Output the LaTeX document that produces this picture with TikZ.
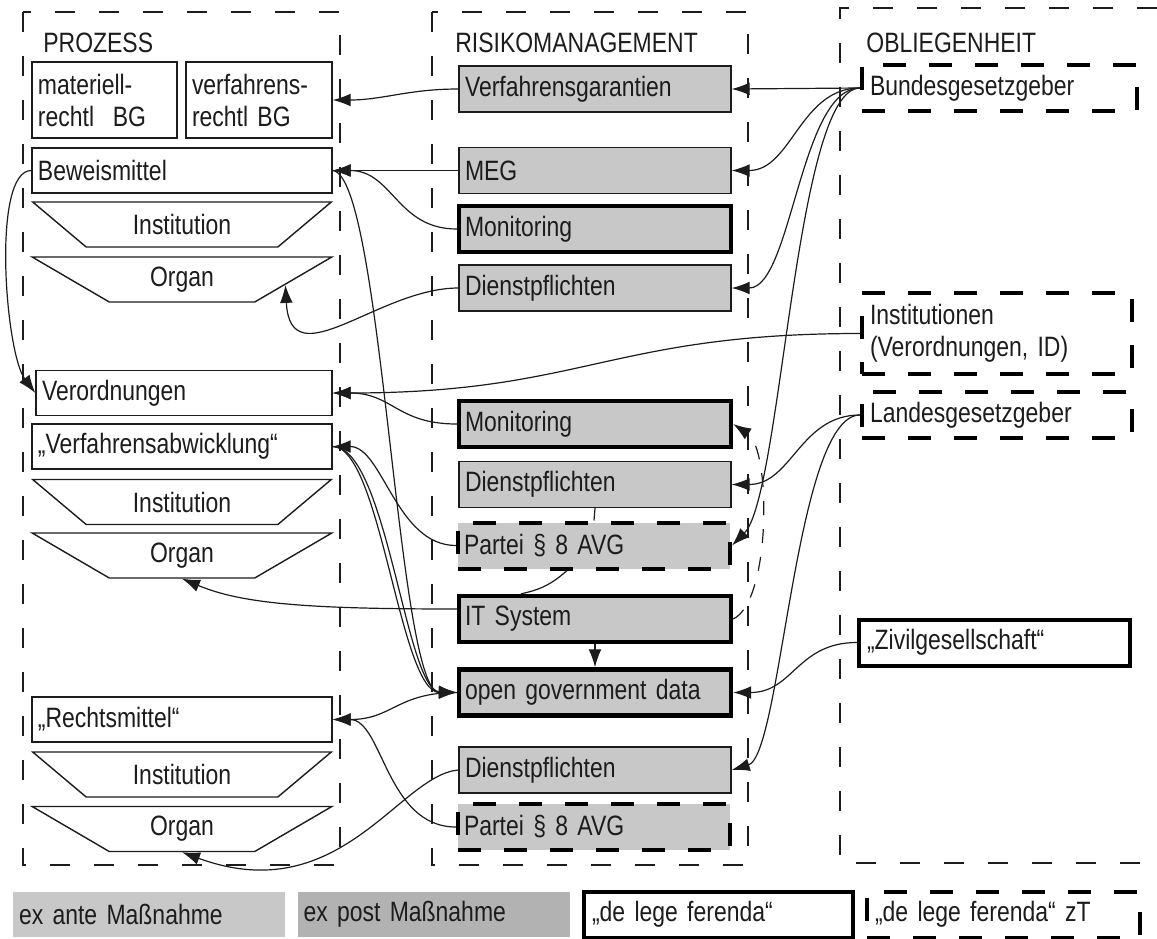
\documentclass[tikz,border=0pt]{standalone}
\usepackage{fontspec}
\setmainfont[FakeStretch=0.82]{Liberation Sans}
\usetikzlibrary{arrows.meta,shapes.geometric}
\definecolor{boxgray}{RGB}{200,200,200}
\definecolor{antegray}{RGB}{200,200,200}
\definecolor{postgray}{RGB}{178,178,178}
\definecolor{ink}{RGB}{28,28,28}
\begin{document}
\begin{tikzpicture}[
		x=0.5pt, y=-0.5pt,
		every node/.style={font=\fontsize{14}{16}\selectfont, text=ink},
		col/.style={draw=ink, line width=0.6pt, dash pattern=on 10pt off 12pt},
		title/.style={anchor=base west, inner sep=0pt},
		proc/.style={draw=ink, line width=0.7pt, fill=white, text width=#1, inner xsep=3pt, inner ysep=2pt, minimum height=22.5pt, align=left},
		proc/.default=144pt,
		trap/.style={trapezium, shape border rotate=180, trapezium angle=36.87, trapezium stretches=true, draw=ink, line width=0.7pt, fill=white, minimum width=150pt, minimum height=22.5pt, inner sep=0pt},
		risk/.style={draw=ink, line width=0.7pt, fill=boxgray, text width=130pt, inner xsep=3pt, minimum height=23pt, align=left},
		riskthick/.style={risk, draw=black, line width=2.2pt},
		riskdash/.style={risk, draw=black, line width=2pt, dash pattern=on 11.5pt off 11.5pt},
		duty/.style={draw=black, line width=2pt, fill=white, dash pattern=on 11.5pt off 11.5pt, text width=#1, inner xsep=4pt, minimum height=23pt, align=left},
		dutythick/.style={duty=#1, solid},
		legend/.style={text width=130pt, inner xsep=3pt, minimum height=22.5pt, align=left},
		flow/.style={draw=ink, line width=0.6pt, -{Latex[length=9pt,width=6.4pt]}},
		link/.style={draw=ink, line width=0.6pt}
	]
		\useasboundingbox (0,0) rectangle (1157,938);
		
		% Spalten
		\draw[col] (23,12) rectangle (340,865);
		\draw[col] (432,12) rectangle (748,865);
		\draw[col] (1157,8) -- (840,8) -- (840,863) -- (1157,863);
		\node[title] (tproz) at (43,52) {PROZESS};
		\node[title] (trisk) at (455,52) {RISIKOMANAGEMENT};
		\node[title] (tobl) at (866,52) {OBLIEGENHEIT};
		
		% Prozess
		\node[proc=66.5pt, minimum height=38pt] (matbg) at (104.5,100) {materiell-\\rechtl\ \ BG};
		\node[proc=67pt, minimum height=38pt] (vrbg) at (259,100) {verfahrens-\\rechtl BG};
		\node[proc] (bew) at (182,170.5) {Beweismittel};
		\node[trap] (inst1) at (182,224.5) {Institution};
		\node[trap] (org1) at (182,279.5) {Organ};
		\node[proc=142pt] (verord) at (184,393) {Verordnungen};
		\node[proc] (abw) at (182,446.5) {„Verfahrensabwicklung“};
		\node[trap] (inst2) at (182,502) {Institution};
		\node[trap] (org2) at (182,555.5) {Organ};
		\node[proc] (rechts) at (182,719.5) {„Rechtsmittel“};
		\node[trap] (inst3) at (182,774.5) {Institution};
		\node[trap] (org3) at (182,829) {Organ};
		
		% Risikomanagement
		\node[risk] (verf) at (595,89) {Verfahrensgarantien};
		\node[risk] (meg) at (595,170.5) {MEG};
		\node[riskthick] (mon1) at (595,229) {Monitoring};
		\node[risk] (dp1) at (595,288) {Dienstpflichten};
		\node[riskthick] (mon2) at (595,424) {Monitoring};
		\node[risk] (dp2) at (595,484.5) {Dienstpflichten};
		\node[riskdash] (partei2) at (594,545.5) {Partei § 8 AVG};
		\node[riskthick] (itsys) at (595,619) {IT System};
		\node[riskthick] (ogd) at (595,692.5) {open government data};
		\node[risk] (dp3) at (595,770) {Dienstpflichten};
		\node[riskdash] (partei3) at (594,827) {Partei § 8 AVG};
		
		% Obliegenheit
		\node[duty=129.5pt] (bund) at (999.5,88) {Bundesgesetzgeber};
		\node[duty=127pt, minimum height=40.5pt] (instn) at (997,333.5) {Institutionen\\(Verordnungen, ID)};
		\node[duty=127pt] (landes) at (997,415) {Landesgesetzgeber};
		\node[dutythick=127.5pt] (zivil) at (994.5,642.5) {„Zivilgesellschaft“};
		
		% Legende
		\node[legend, fill=antegray] (ante) at (149,914.5) {ex ante Maßnahme};
		\node[legend, fill=postgray] (post) at (433.5,914.5) {ex post Maßnahme};
		\node[dutythick=126.5pt] (dlf) at (718.5,914.5) {„de lege ferenda“};
		\node[duty=128.5pt] (dlfzt) at (1003.5,914.5) {„de lege ferenda“ zT};
		
		% Verbindungen
		\draw[flow] (bund.west) -- (verf.east);
		\draw[flow] (bund.west) .. controls +(-60,0) and +(60,0) .. (meg.east);
		\draw[flow] (bund.west) .. controls +(-60,0) and +(60,0) .. (dp1.east);
		\draw[flow] (bund.west) .. controls +(-65,0) and +(50,-50) .. (partei2.east);
		\draw[flow] (verf.west) .. controls +(-50,0) and +(50,0) .. (vrbg.east);
		\draw[flow] (meg.west) -- (bew.east);
		\draw[flow] (mon1.west) .. controls +(-60,0) and +(60,0) .. (bew.east);
		\draw[flow] (dp1.west) .. controls +(-80,0) and +(5,95) .. (org1.-3);
		\draw[flow] (bew.west) .. controls +(-40,0) and +(-30,-40) .. (verord.west);
		\draw[flow] (bew.east) .. controls +(50,5) and +(-60,0) .. (ogd.west);
		\draw[flow] (abw.east) .. controls +(48,0) and +(-57,0) .. (ogd.west);
		\draw[flow] (abw.east) .. controls +(54,0) and +(-51,-2) .. (ogd.west);
		\draw[flow] (mon2.west) .. controls +(-60,0) and +(60,0) .. (verord.east);
		\draw[flow] (instn.west) .. controls +(-250,0) and +(250,0) .. (verord.east);
		\draw[flow] (partei2.west) .. controls +(-60,0) and +(50,0) .. (abw.east);
		\draw[flow] ([yshift=5pt]itsys.west) .. controls +(-150,0) and +(60,25) .. (org2.-90);
		\draw[link] ([xshift=-13.5pt]partei2.south) to[bend left=15] ([xshift=-37pt]itsys.north);
		\draw[link] (dp2.south) -- (partei2.north);
		\draw[flow] (itsys.south) -- (ogd.north);
		\draw[flow] (ogd.west) .. controls +(-60,0) and +(60,0) .. (rechts.east);
		\draw[flow] (partei3.west) .. controls +(-70,0) and +(50,0) .. (rechts.east);
		\draw[flow] (dp3.west) .. controls +(-59,5) and +(158,58) .. (org3.-90);
		\draw[flow] (zivil.west) .. controls +(-60,0) and +(60,0) .. (ogd.east);
		\draw[flow] (landes.west) .. controls +(-60,0) and +(60,0) .. (dp2.east);
		\draw[flow] (landes.west) .. controls +(-65,0) and +(50,-15) .. (dp3.east);
		\draw[flow, dash pattern=on 7pt off 7pt] (itsys.east) .. controls +(38,-18) and +(38,25) .. (mon2.east);
	\end{tikzpicture}
\end{document}
